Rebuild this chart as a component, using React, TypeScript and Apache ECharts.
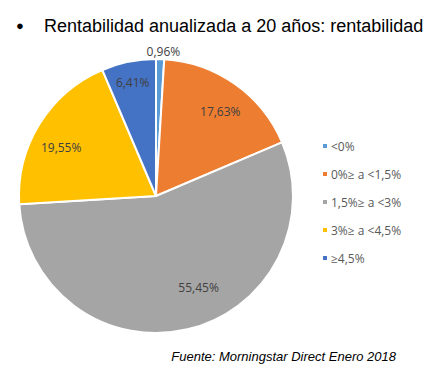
import React, { useEffect, useRef } from "react";
import * as echarts from "echarts";

const categories = ["<0%", "0%≥ a <1,5%", "1,5%≥ a <3%", "3%≥ a <4,5%", "≥4,5%"];
const values = [0.96, 17.63, 55.45, 19.55, 6.41];
const colors = ["#5B9BD5", "#ED7D31", "#A5A5A5", "#FFC000", "#4472C4"];
const bulletText = "●";
const titleText = "Rentabilidad anualizada a 20 años: rentabilidad";
const sourceText = "Fuente: Morningstar Direct Enero 2018";

const fmt = (v: number) => v.toFixed(2).replace(".", ",") + "%";

const labelOffsets: number[][] = [
  [4, -33],
  [0, 7],
  [17, -17],
  [0, 10],
  [-1, -4],
];

export default function App() {
  const ref = useRef<HTMLDivElement>(null);
  useEffect(() => {
    if (!ref.current) return;
    const chart = echarts.init(ref.current, undefined, { renderer: "svg" });
    const center = [156, 196];
    chart.setOption({
      animation: false,
      backgroundColor: "#ffffff",
      color: colors,
      title: [
        {
          text: bulletText,
          left: 11,
          top: 14,
          textStyle: { fontFamily: "Liberation Sans", fontSize: 13, fontWeight: "normal", color: "#000" },
        },
        {
          text: titleText,
          left: 39,
          top: 12,
          textStyle: { fontFamily: "Liberation Sans", fontSize: 18, fontWeight: "normal", color: "#000" },
        },
        {
          text: sourceText,
          right: 30,
          top: 345,
          textStyle: { fontFamily: "Liberation Sans", fontSize: 13, fontStyle: "italic", fontWeight: "normal", color: "#000" },
        },
      ],
      legend: {
        orient: "vertical",
        left: 316,
        top: 135,
        itemWidth: 6,
        itemHeight: 6,
        itemGap: 16,
        icon: "rect",
        data: categories,
        textStyle: { fontFamily: "Open Sans", fontSize: 12, color: "#595959", padding: [0, 0, 0, -2] },
      },
      series: [
        {
          type: "pie",
          center,
          radius: [0, 137],
          startAngle: 90,
          clockwise: true,
          label: { show: false },
          labelLine: { show: false },
          itemStyle: { borderColor: "#fff", borderWidth: 2 },
          emphasis: { disabled: true },
          data: categories.map((c, i) => ({ name: c, value: values[i] })),
        },
        {
          type: "pie",
          center,
          radius: [80, 137],
          startAngle: 90,
          clockwise: true,
          silent: true,
          itemStyle: { color: "transparent", borderWidth: 0 },
          labelLine: { show: false },
          label: {
            show: true,
            position: "inside",
            formatter: (p: any) => fmt(p.value),
            fontFamily: "Open Sans",
            fontSize: 12,
            color: "#404040",
          },
          emphasis: { disabled: true },
          data: categories.map((c, i) => ({
            name: c,
            value: values[i],
            label: { offset: labelOffsets[i] },
          })),
        },
      ],
    });
    return () => chart.dispose();
  }, []);
  return (
    <div
      ref={ref}
      style={{ position: "absolute", left: 0, top: 0, width: 431, height: 378 }}
    />
  );
}
